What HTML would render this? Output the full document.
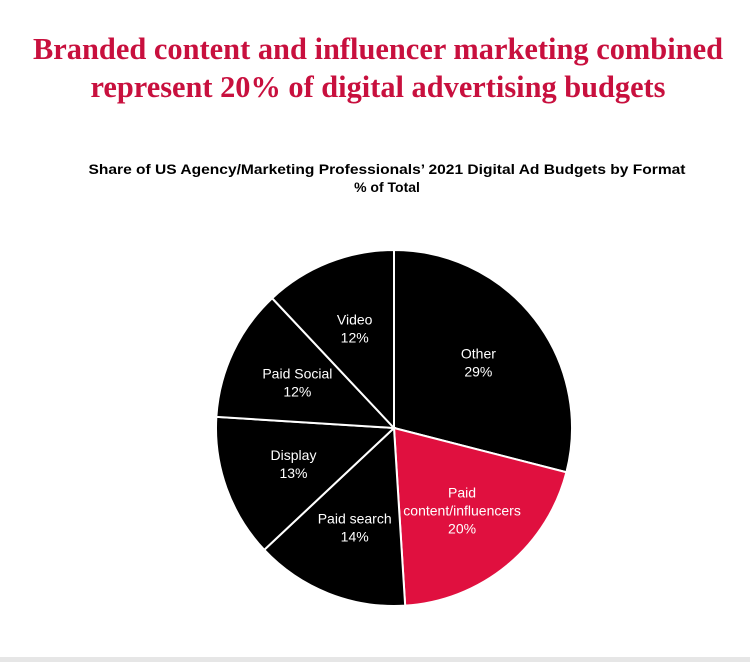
<!DOCTYPE html>
<html><head><meta charset="utf-8"><style>
html,body{margin:0;padding:0;background:#fff;}
body{width:750px;height:662px;overflow:hidden;position:relative;}
svg{display:block;}
</style></head>
<body>
<svg id="chart" width="750" height="662" viewBox="0 0 750 662" xmlns="http://www.w3.org/2000/svg">
<rect x="0" y="0" width="750" height="662" fill="#fff"/>
<rect x="0" y="657" width="750" height="5" fill="#e6e6e6"/>
<g font-family="Liberation Serif, serif" font-weight="bold" fill="#c8103e" font-size="31" text-anchor="middle">
<text x="378" y="59" textLength="690" lengthAdjust="spacingAndGlyphs">Branded content and influencer marketing combined</text>
<text x="378" y="97" textLength="575" lengthAdjust="spacingAndGlyphs">represent 20% of digital advertising budgets</text>
</g>
<g font-family="Liberation Sans, sans-serif" font-weight="bold" fill="#000" font-size="14" text-anchor="middle">
<text x="387" y="174" textLength="597" lengthAdjust="spacingAndGlyphs">Share of US Agency/Marketing Professionals’ 2021 Digital Ad Budgets by Format</text>
<text x="387" y="192">% of Total</text>
</g>
<g id="pie"></g>
<g id="labels"></g>
</svg>
<script>
const categories = ["Other", "Paid content/influencers", "Paid search", "Display", "Paid Social", "Video"];
const values = [29, 20, 14, 13, 12, 12];
const valueLabels = ["29%", "20%", "14%", "13%", "12%", "12%"];
const labelLines = [["Other"], ["Paid", "content/influencers"], ["Paid search"], ["Display"], ["Paid Social"], ["Video"]];
const highlight = "Paid content/influencers";

const cx = 394, cy = 428, r = 178;
const NS = "http://www.w3.org/2000/svg";
const total = values.reduce((a, b) => a + b, 0);
function angleOf(v) { return v / total * Math.PI * 2; }
function pt(a, rad) { return [cx + rad * Math.sin(a), cy - rad * Math.cos(a)]; }

const pie = document.getElementById("pie");
const labels = document.getElementById("labels");
let start = 0;
values.forEach((v, i) => {
  const sweep = angleOf(v);
  const end = start + sweep;
  const [x1, y1] = pt(start, r);
  const [x2, y2] = pt(end, r);
  const large = sweep > Math.PI ? 1 : 0;
  const path = document.createElementNS(NS, "path");
  path.setAttribute("d", `M${cx},${cy} L${x1},${y1} A${r},${r} 0 ${large} 1 ${x2},${y2} Z`);
  path.setAttribute("fill", categories[i] === highlight ? "#e0103f" : "#000");
  path.setAttribute("stroke", "#fff");
  path.setAttribute("stroke-width", "2");
  
  
  pie.appendChild(path);

  const mid = start + sweep / 2;
  const [lx, ly] = pt(mid, r * 0.6);
  const lines = labelLines[i].concat([valueLabels[i]]);
  const t = document.createElementNS(NS, "text");
  t.setAttribute("text-anchor", "middle");
  t.setAttribute("font-family", "Liberation Sans, sans-serif");
  t.setAttribute("font-size", "14");
  t.setAttribute("fill", "#fff");
  
  
  const lh = 18;
  const y0 = ly - (lines.length - 1) * lh / 2 + 5;
  lines.forEach((s, j) => {
    const ts = document.createElementNS(NS, "tspan");
    ts.setAttribute("x", lx);
    ts.setAttribute("y", y0 + j * lh);
    ts.textContent = s;
    t.appendChild(ts);
  });
  labels.appendChild(t);
  start = end;
});
</script>
</body></html>
